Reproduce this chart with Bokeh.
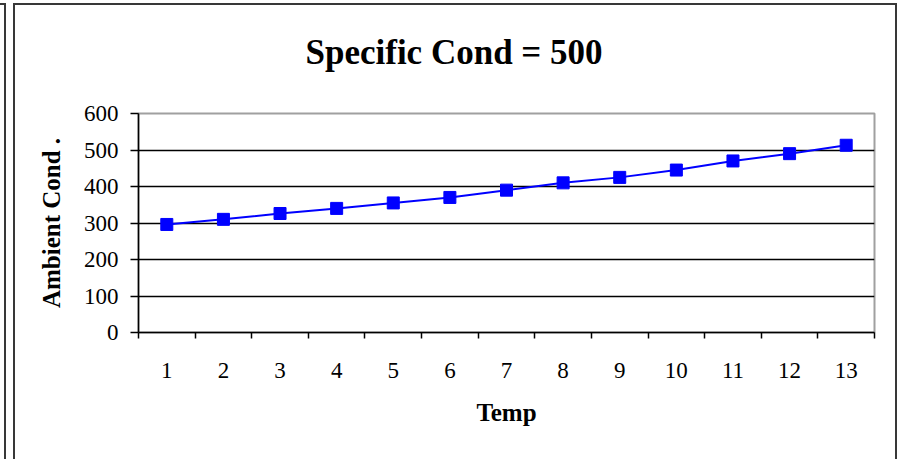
from bokeh.plotting import figure
from bokeh.models import FixedTicker, Range1d, LinearAxis
from bokeh.embed import file_html
from bokeh.resources import INLINE

# ---- data ----
temp_labels = ["1", "2", "3", "4", "5", "6", "7", "8", "9", "10", "11", "12", "13"]
temp_pos = [1, 2, 3, 4, 5, 6, 7, 8, 9, 10, 11, 12, 13]
ambient_cond = [296, 310, 326, 340, 355, 370, 390, 410, 425, 445, 470, 490, 513]
y_ticks = [0, 100, 200, 300, 400, 500, 600]
title_text = "Specific Cond = 500"
x_title = "Temp"
y_title = "Ambient Cond ."

SERIF = "Liberation Serif"

p = figure(width=901, height=459, output_backend="svg", toolbar_location=None,
           x_range=Range1d(0.5, len(temp_pos) + 0.5), y_range=Range1d(0, 600),
           min_border_left=138, min_border_right=27, min_border_top=113, min_border_bottom=127,
           background_fill_color="white", border_fill_color=None)

xa = p.below[0]
ya = p.left[0]

# chart-area frames drawn as CSS background lines behind the transparent border
frame_color = "#383838"
grad = "linear-gradient({c},{c})".format(c=frame_color)
p.styles = {
    "background-color": "white",
    "background-image": ", ".join([grad] * 5),
    "background-position": "13px 3px, 13px 3px, 895px 3px, 4px 3px, 0px 3px",
    "background-size": "2px 460px, 884px 2px, 2px 460px, 2px 460px, 6px 2px",
    "background-repeat": "no-repeat",
}

# invisible spacer between plot area and title (one hidden tick, no label text)
spacer = LinearAxis(ticker=FixedTicker(ticks=[temp_pos[0]], minor_ticks=[]),
                    major_label_overrides={temp_pos[0]: ""},
                    axis_line_color=None,
                    major_tick_line_color=None, minor_tick_line_color=None,
                    major_tick_out=37, major_tick_in=0, minor_tick_out=0, minor_tick_in=0,
                    major_label_standoff=0, major_label_text_font_size="0px")
p.add_layout(spacer, "above")

# title
p.title.text = title_text
p.title.text_font = SERIF
p.title.text_font_size = "35px"
p.title.text_font_style = "bold"
p.title.text_color = "black"
p.title.align = "left"
p.title.offset = 167
p.title.standoff = 10

# outline of plot area
p.outline_line_color = "#a0a0a0"
p.outline_line_width = 2

# grids
p.xgrid.grid_line_color = None
p.ygrid.ticker = FixedTicker(ticks=[t for t in y_ticks if 0 < t < 600])
p.ygrid.grid_line_color = "black"
p.ygrid.grid_line_width = 1.5

# y axis
ya.ticker = FixedTicker(ticks=y_ticks)
ya.axis_line_color = "black"
ya.axis_line_width = 1.5
ya.major_tick_out = 8
ya.major_tick_in = 0
ya.major_tick_line_color = "black"
ya.major_tick_line_width = 1.5
ya.minor_tick_line_color = None
ya.major_label_text_font = SERIF
ya.major_label_text_font_size = "23px"
ya.major_label_text_color = "black"
ya.major_label_standoff = 12
ya.axis_label = y_title
ya.axis_label_text_font = SERIF
ya.axis_label_text_font_size = "25px"
ya.axis_label_text_font_style = "bold"
ya.axis_label_text_color = "black"
ya.axis_label_standoff = 16

# x axis (labels at category centres, tick marks at boundaries)
xa.ticker = FixedTicker(ticks=temp_pos, minor_ticks=[x - 0.5 for x in temp_pos] + [temp_pos[-1] + 0.5])
xa.major_label_overrides = {pos: lab for pos, lab in zip(temp_pos, temp_labels)}
xa.axis_line_color = "black"
xa.axis_line_width = 1.5
xa.major_tick_out = 0
xa.major_tick_in = 0
xa.major_tick_line_color = None
xa.minor_tick_out = 6
xa.minor_tick_in = 0
xa.minor_tick_line_color = "black"
xa.minor_tick_line_width = 1.5
xa.major_label_text_font = SERIF
xa.major_label_text_font_size = "23px"
xa.major_label_text_color = "black"
xa.major_label_standoff = 24
xa.axis_label = x_title
xa.axis_label_text_font = SERIF
xa.axis_label_text_font_size = "25px"
xa.axis_label_text_font_style = "bold"
xa.axis_label_text_color = "black"
xa.axis_label_standoff = 18

# series
p.line(temp_pos, ambient_cond, line_color="#0000ff", line_width=2)
p.scatter(temp_pos, ambient_cond, marker="square", size=12,
          fill_color="#0000ff", line_color="#0000ff")

open("out.html", "w").write(file_html(p, INLINE))
